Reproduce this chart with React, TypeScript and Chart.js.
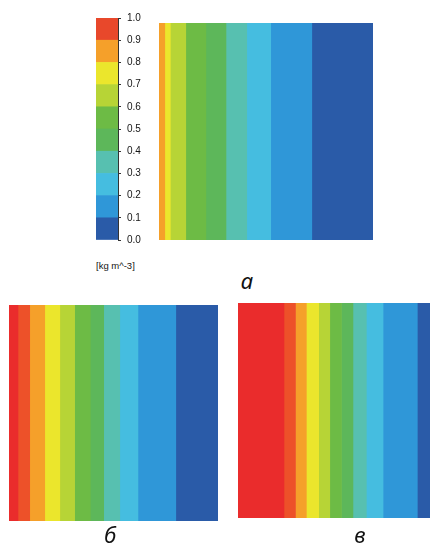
import React, { useEffect, useRef } from "react";
import { Chart, registerables } from "chart.js";

Chart.register(...registerables);

// Colour scale levels (density, kg m^-3)
const levelTicks = [0, 0.1, 0.2, 0.3, 0.4, 0.5, 0.6, 0.7, 0.8, 0.9, 1.0];
const colorbarLevels = [0, 1, 2, 3, 4, 5, 6, 7, 8, 9];
const unitLabel = "[kg m^-3]";

// Panel a: level of each band from left to right and right edge of each band (fraction of domain length)
const panelALevels = [8, 7, 6, 5, 4, 3, 2, 1, 0];
const panelAEdges = [0.027, 0.053, 0.125, 0.219, 0.313, 0.41, 0.522, 0.714, 1.0];

// Panel б
const panelBLevels = [10, 9, 8, 7, 6, 5, 4, 3, 2, 1, 0];
const panelBEdges = [0.043, 0.099, 0.171, 0.243, 0.314, 0.389, 0.453, 0.53, 0.617, 0.798, 1.0];

// Panel в
const panelCLevels = [10, 9, 8, 7, 6, 5, 4, 3, 2, 1, 0];
const panelCEdges = [0.22, 0.275, 0.327, 0.386, 0.439, 0.495, 0.55, 0.614, 0.694, 0.858, 1.0];

const panelLabels = ["а", "б", "в"];

// styles
const levelColors = [
  "#2a5ba8",
  "#2f97d8",
  "#45bde0",
  "#57c0b0",
  "#5db75a",
  "#6dbb45",
  "#b7d436",
  "#ebe62c",
  "#f5a02a",
  "#ed5129",
  "#ea2c2c",
];
const colorbarTopColor = "#e8482b";

function BandPanel(props: { levels: number[]; edges: number[]; left: number; top: number; width: number; height: number }) {
  const ref = useRef<HTMLCanvasElement | null>(null);
  useEffect(() => {
    if (!ref.current) return;
    const datasets = props.levels.map((lv, i) => ({
      data: [props.edges[i] - (i > 0 ? props.edges[i - 1] : 0)],
      backgroundColor: levelColors[lv],
      borderWidth: 0,
      barPercentage: 1,
      categoryPercentage: 1,
    }));
    const chart = new Chart(ref.current, {
      type: "bar",
      data: { labels: [""], datasets },
      options: {
        animation: false,
        responsive: false,
        maintainAspectRatio: false,
        devicePixelRatio: 1,
        indexAxis: "y",
        layout: { padding: 0 },
        plugins: { legend: { display: false }, tooltip: { enabled: false } },
        scales: {
          x: { stacked: true, display: false, min: 0, max: 1 },
          y: { stacked: true, display: false },
        },
      },
    } as any);
    return () => chart.destroy();
  }, []);
  return (
    <div style={{ position: "absolute", left: props.left, top: props.top, width: props.width, height: props.height }}>
      <canvas ref={ref} width={props.width} height={props.height} style={{ width: props.width, height: props.height, display: "block" }} />
    </div>
  );
}

function ColorBar() {
  const ref = useRef<HTMLCanvasElement | null>(null);
  const W = 54;
  const H = 246;
  useEffect(() => {
    if (!ref.current) return;
    const datasets = colorbarLevels.map((lv) => ({
      data: [levelTicks[lv + 1] - levelTicks[lv]],
      backgroundColor: lv === 9 ? colorbarTopColor : levelColors[lv],
      borderWidth: 0,
      barPercentage: 1,
      categoryPercentage: 1,
    }));
    const chart = new Chart(ref.current, {
      type: "bar",
      data: { labels: [""], datasets },
      options: {
        animation: false,
        responsive: false,
        maintainAspectRatio: false,
        devicePixelRatio: 1,
        layout: { padding: { top: 10.7, bottom: 7, left: 0, right: 0 } },
        plugins: { legend: { display: false }, tooltip: { enabled: false } },
        scales: {
          x: { stacked: true, display: false },
          y: {
            stacked: true,
            position: "right",
            min: 0,
            max: 1,
            afterFit: (s: any) => {
              s.width = 32;
            },
            border: { display: true, color: "#333", width: 1 },
            grid: { drawOnChartArea: false, drawTicks: true, tickLength: 3, color: "#333" },
            ticks: {
              stepSize: 0.1,
              autoSkip: false,
              padding: 6,
              color: "#151515",
              font: { family: "Liberation Sans, Arial, sans-serif", size: 10 },
              callback: (v: any) => Number(v).toFixed(1),
            },
          },
        },
      },
    } as any);
    return () => chart.destroy();
  }, []);
  return (
    <div style={{ position: "absolute", left: 96, top: 6, width: W, height: H }}>
      <canvas ref={ref} width={W} height={H} style={{ width: W, height: H, display: "block" }} />
    </div>
  );
}

const labelStyle: React.CSSProperties = {
  position: "absolute",
  fontFamily: "'Noto Sans', 'DejaVu Sans', sans-serif",
  fontStyle: "italic",
  fontSize: 22,
  lineHeight: "24px",
  color: "#111",
  width: 40,
  textAlign: "center",
};

export default function App() {
  return (
    <div
      style={{
        position: "absolute",
        left: 0,
        top: 0,
        width: 430,
        height: 551,
        overflow: "hidden",
        background: "#fff",
      }}
    >
      <ColorBar />
      <div
        style={{
          position: "absolute",
          left: 96,
          top: 260,
          fontFamily: "'Liberation Sans', Arial, sans-serif",
          fontSize: 9.5,
          color: "#151515",
          whiteSpace: "nowrap",
        }}
      >
        {unitLabel}
      </div>
      <BandPanel levels={panelALevels} edges={panelAEdges} left={159} top={23} width={214} height={217} />
      <BandPanel levels={panelBLevels} edges={panelBEdges} left={9} top={305} width={209} height={216} />
      <BandPanel levels={panelCLevels} edges={panelCEdges} left={238} top={303} width={209} height={215} />
      <div style={{ ...labelStyle, left: 227, top: 268 }}>{panelLabels[0]}</div>
      <div style={{ ...labelStyle, left: 90, top: 522 }}>{panelLabels[1]}</div>
      <div style={{ ...labelStyle, left: 340, top: 522 }}>{panelLabels[2]}</div>
    </div>
  );
}
